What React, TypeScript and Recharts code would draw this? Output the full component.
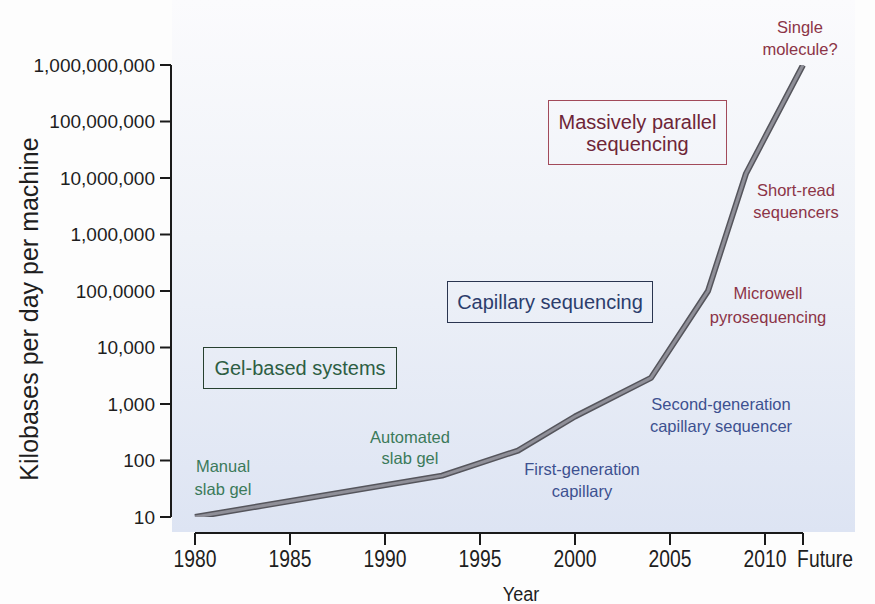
import React from "react";
import { LineChart, Line, XAxis, YAxis, Label } from "recharts";

// throughput of one sequencing machine over time
const YEARS = [1980, 1993, 1997, 2000, 2004, 2007, 2009, 2012];
const KB_PER_DAY = [10, 54, 150, 600, 2900, 100000, 12000000, 1000000000];

const X_TICKS = [1980, 1985, 1990, 1995, 2000, 2005, 2010, 2012];
const X_TICK_LABELS = ["1980", "1985", "1990", "1995", "2000", "2005", "2010", "Future"];

const Y_TICKS = [10, 100, 1000, 10000, 100000, 1000000, 10000000, 100000000, 1000000000];
const Y_TICK_LABELS = [
  "10",
  "100",
  "1,000",
  "10,000",
  "100,0000",
  "1,000,000",
  "10,000,000",
  "100,000,000",
  "1,000,000,000",
];

const data = YEARS.map((year, i) => ({ year, kb: KB_PER_DAY[i] }));

const SANS = "'Liberation Sans', Arial, Helvetica, sans-serif";

const GREEN = "#3b7a5a";
const BLUE = "#3d5190";
const RED = "#8c3447";

// the year labels are set in a condensed face: squeeze regular sans horizontally
function XTick(props: any) {
  const { x, y, payload } = props;
  const i = X_TICKS.indexOf(payload.value);
  const label = i >= 0 ? X_TICK_LABELS[i] : String(payload.value);
  const shift = label === "Future" ? 22 : 0;
  return (
    <text
      transform={`translate(${x + shift},${y + 22}) scale(0.84,1)`}
      textAnchor="middle"
      fontFamily={SANS}
      fontSize={23}
      fill="#1e1e1e"
    >
      {label}
    </text>
  );
}

function yLabel(props: any) {
  const vb = props.viewBox || { x: 10, y: 65, width: 161, height: 468 };
  const cx = vb.x + 28;
  const cy = vb.y + vb.height / 2 + 10;
  return (
    <text
      transform={`translate(${cx},${cy}) rotate(-90)`}
      textAnchor="middle"
      fontFamily={SANS}
      fontSize={25}
      fill="#1e1e1e"
    >
      Kilobases per day per machine
    </text>
  );
}

function xLabel(props: any) {
  const vb = props.viewBox || { x: 171, y: 533, width: 632, height: 65 };
  return (
    <text
      transform={`translate(${vb.x + vb.width / 2 + 34},601) scale(0.86,1)`}
      textAnchor="middle"
      fontFamily={SANS}
      fontSize={21}
      fill="#1e1e1e"
    >
      Year
    </text>
  );
}

function Note({
  lines,
  cx,
  cy,
  color,
  lh = 22,
  size = 16.5,
}: {
  lines: string[];
  cx: number;
  cy: number;
  color: string;
  lh?: number;
  size?: number;
}) {
  return (
    <div
      style={{
        position: "absolute",
        left: cx,
        top: cy,
        transform: "translate(-50%, -50%)",
        textAlign: "center",
        whiteSpace: "nowrap",
        fontFamily: SANS,
        fontSize: size,
        lineHeight: `${lh}px`,
        color,
      }}
    >
      {lines.map((l) => (
        <div key={l}>{l}</div>
      ))}
    </div>
  );
}

function Box({
  lines,
  left,
  top,
  width,
  height,
  color,
  border,
}: {
  lines: string[];
  left: number;
  top: number;
  width: number;
  height: number;
  color: string;
  border: string;
}) {
  return (
    <div
      style={{
        position: "absolute",
        left,
        top,
        width,
        height,
        boxSizing: "border-box",
        border: `1.5px solid ${border}`,
        display: "flex",
        flexDirection: "column",
        alignItems: "center",
        justifyContent: "center",
        fontFamily: SANS,
        fontSize: 20,
        lineHeight: "22px",
        color,
        whiteSpace: "nowrap",
      }}
    >
      {lines.map((l) => (
        <div key={l}>{l}</div>
      ))}
    </div>
  );
}

export default function App() {
  return (
    <div style={{ position: "absolute", left: 0, top: 0, width: 875, height: 604, background: "#fdfdfd", overflow: "hidden" }}>
      {/* scanned-page tint behind the plot */}
      <div
        style={{
          position: "absolute",
          left: 172,
          top: 0,
          width: 683,
          height: 532,
          background: "linear-gradient(180deg, #fbfbfd 0%, #eff2f8 45%, #dde4f3 100%)",
        }}
      />
      <div style={{ position: "absolute", left: 0, top: 0 }}>
        <LineChart
          width={875}
          height={604}
          data={data}
          margin={{ top: 65, right: 72, bottom: 6, left: 10 }}
        >
          <XAxis
            dataKey="year"
            type="number"
            domain={[1980, 2012]}
            ticks={X_TICKS}
            interval={0}
            padding={{ left: 24, right: 0 }}
            height={65}
            tickSize={12}
            tickMargin={0}
            tickLine={{ stroke: "#1a1a1a", strokeWidth: 2 }}
            axisLine={{ stroke: "#1a1a1a", strokeWidth: 2, strokeDasharray: "0 24 800" }}
            tick={<XTick />}
          >
            <Label content={xLabel} />
          </XAxis>
          <YAxis
            type="number"
            scale="log"
            domain={[10, 1000000000]}
            allowDataOverflow
            ticks={Y_TICKS}
            interval={0}
            padding={{ top: 0, bottom: 16 }}
            width={161}
            tickSize={11}
            tickMargin={5}
            tickLine={{ stroke: "#1a1a1a", strokeWidth: 2 }}
            axisLine={{ stroke: "#1a1a1a", strokeWidth: 2, strokeDasharray: "452 200" }}
            tickFormatter={(v: number) => {
              const i = Y_TICKS.indexOf(v);
              return i >= 0 ? Y_TICK_LABELS[i] : String(v);
            }}
            tick={{ fontFamily: SANS, fontSize: 19, fill: "#1e1e1e" }}
          >
            <Label content={yLabel} />
          </YAxis>
          <Line
            dataKey="kb"
            type="linear"
            stroke="#55555c"
            strokeWidth={6}
            strokeLinejoin="round"
            dot={false}
            activeDot={false}
            isAnimationActive={false}
          />
          <Line
            dataKey="kb"
            type="linear"
            stroke="#8f8f98"
            strokeWidth={3}
            strokeLinejoin="round"
            dot={false}
            activeDot={false}
            isAnimationActive={false}
          />
        </LineChart>
      </div>

      <Box lines={["Gel-based systems"]} left={203} top={347} width={194} height={42} color="#2d5e43" border="#26402f" />
      <Box lines={["Capillary sequencing"]} left={447} top={281} width={206} height={42} color="#2c3d6c" border="#2a3550" />
      <Box
        lines={["Massively parallel", "sequencing"]}
        left={548}
        top={100}
        width={179}
        height={65}
        color="#6e2537"
        border="#a24a5a"
      />

      <Note lines={["Manual", "slab gel"]} cx={223} cy={478} lh={23} color={GREEN} />
      <Note lines={["Automated", "slab gel"]} cx={410} cy={448} lh={21} color={GREEN} />
      <Note lines={["First-generation", "capillary"]} cx={582} cy={480} color={BLUE} />
      <Note lines={["Second-generation", "capillary sequencer"]} cx={721} cy={415} color={BLUE} />
      <Note lines={["Microwell", "pyrosequencing"]} cx={768} cy={305} lh={24} color={RED} />
      <Note lines={["Short-read", "sequencers"]} cx={796} cy={201} color={RED} />
      <Note lines={["Single", "molecule?"]} cx={800} cy={38} color={RED} />
    </div>
  );
}
